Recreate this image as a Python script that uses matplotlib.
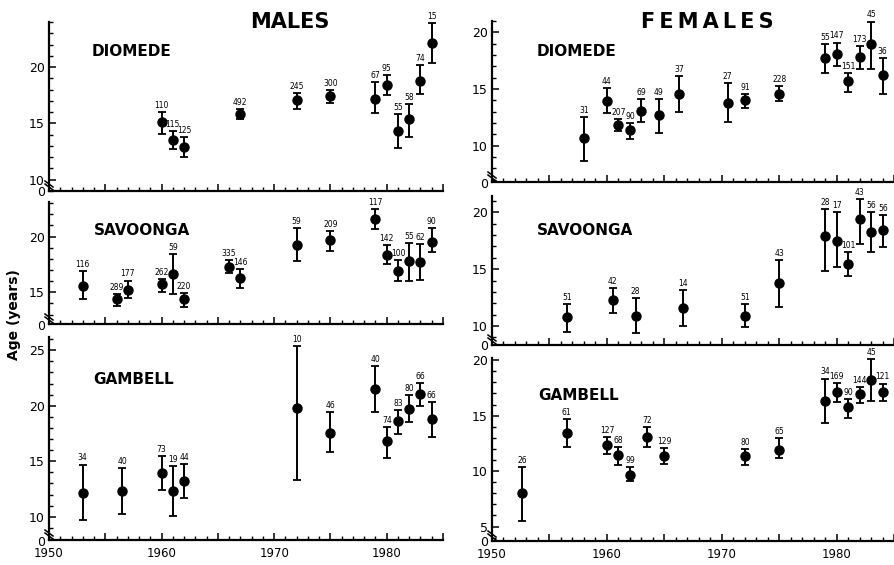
import matplotlib
matplotlib.use('Agg')
import matplotlib.pyplot as plt
from matplotlib.ticker import MultipleLocator, FuncFormatter

plt.rcParams['font.family'] = ['DejaVu Sans']

# ---- data: year, mean age, lower/upper bar, sample size ----
# Males, Diomede
dio_m_year = [1960, 1961, 1962, 1967, 1972, 1975, 1979, 1980, 1981, 1982, 1983, 1984]
dio_m_mean = [15.1, 13.5, 12.9, 15.8, 17.1, 17.45, 17.15, 18.4, 14.3, 15.35, 18.8, 22.15]
dio_m_lo = [14.1, 12.7, 12.0, 15.4, 16.3, 16.85, 15.9, 17.5, 12.85, 13.8, 17.6, 20.4]
dio_m_hi = [16.0, 14.35, 13.8, 16.25, 17.7, 18.0, 18.7, 19.3, 15.8, 16.75, 20.15, 23.9]
dio_m_n = [110, 115, 125, 492, 245, 300, 67, 95, 55, 58, 74, 15]

# Males, Savoonga
sav_m_year = [1953, 1956, 1957, 1960, 1961, 1962, 1966, 1967, 1972, 1975, 1979, 1980, 1981, 1982, 1983, 1984]
sav_m_mean = [15.6, 14.35, 15.2, 15.7, 16.6, 14.35, 17.25, 16.3, 19.25, 19.7, 21.6, 18.3, 16.95, 17.8, 17.7, 19.55]
sav_m_lo = [14.4, 13.75, 14.45, 15.0, 14.8, 13.7, 16.7, 15.4, 17.8, 18.7, 20.7, 17.5, 16.0, 16.05, 16.1, 18.6]
sav_m_hi = [16.9, 14.8, 16.05, 16.2, 18.4, 14.95, 17.9, 17.1, 20.8, 20.5, 22.5, 19.2, 17.9, 19.4, 19.35, 20.8]
sav_m_n = [116, 289, 177, 262, 59, 220, 335, 146, 59, 209, 117, 142, 100, 55, 62, 90]

# Males, Gambell
gam_m_year = [1953, 1956.5, 1960, 1961, 1962, 1972, 1975, 1979, 1980, 1981, 1982, 1983, 1984]
gam_m_mean = [12.15, 12.3, 13.9, 12.3, 13.2, 19.8, 17.55, 21.55, 16.85, 18.65, 19.75, 21.05, 18.85]
gam_m_lo = [9.7, 10.25, 12.4, 10.1, 11.65, 13.3, 15.85, 19.45, 15.25, 17.5, 18.55, 19.95, 17.2]
gam_m_hi = [14.7, 14.35, 15.5, 14.55, 14.75, 25.35, 19.4, 23.6, 18.1, 19.6, 21.0, 22.05, 20.3]
gam_m_n = [34, 40, 73, 19, 44, 10, 46, 40, 74, 83, 80, 66, 66]

# Females, Diomede
dio_f_year = [1958, 1960, 1961, 1962, 1963, 1964.5, 1966.3, 1970.5, 1972, 1975, 1979, 1980, 1981, 1982, 1983, 1984]
dio_f_mean = [10.65, 13.95, 11.8, 11.4, 13.1, 12.7, 14.6, 13.8, 14.0, 14.6, 17.75, 18.1, 15.75, 17.85, 18.95, 16.25]
dio_f_lo = [8.65, 12.85, 11.3, 10.6, 12.05, 11.1, 13.0, 12.1, 13.3, 13.95, 16.45, 17.05, 14.75, 16.75, 16.75, 14.6]
dio_f_hi = [12.5, 15.05, 12.35, 12.0, 14.1, 14.15, 16.15, 15.5, 14.55, 15.3, 19.0, 19.1, 16.45, 18.8, 20.95, 17.7]
dio_f_n = [31, 44, 207, 90, 69, 49, 37, 27, 91, 228, 55, 147, 151, 173, 45, 36]

# Females, Savoonga
sav_f_year = [1956.5, 1960.5, 1962.5, 1966.6, 1972, 1975, 1979, 1980, 1981, 1982, 1983, 1984]
sav_f_mean = [10.75, 12.25, 10.9, 11.55, 10.9, 13.75, 17.95, 17.5, 15.45, 19.4, 18.3, 18.45]
sav_f_lo = [9.5, 11.1, 9.4, 10.0, 9.95, 11.7, 14.85, 15.15, 14.4, 17.25, 16.55, 16.95]
sav_f_hi = [11.95, 13.35, 12.45, 13.15, 11.95, 15.8, 20.3, 20.0, 16.5, 21.2, 20.05, 19.75]
sav_f_n = [51, 42, 28, 14, 51, 43, 28, 17, 101, 43, 56, 56]

# Females, Gambell
gam_f_year = [1952.6, 1956.5, 1960, 1961, 1962, 1963.5, 1965, 1972, 1975, 1979, 1980, 1981, 1982, 1983, 1984]
gam_f_mean = [8.05, 13.45, 12.35, 11.45, 9.65, 13.1, 11.35, 11.35, 11.95, 16.35, 17.15, 15.75, 16.95, 18.25, 17.1]
gam_f_lo = [5.5, 12.2, 11.55, 10.55, 9.15, 12.15, 10.6, 10.55, 11.15, 14.35, 16.25, 14.75, 16.1, 16.35, 16.3]
gam_f_hi = [10.4, 14.7, 13.1, 12.2, 10.35, 14.0, 12.05, 12.0, 12.95, 18.35, 17.95, 16.5, 17.6, 20.1, 17.9]
gam_f_n = [26, 61, 127, 68, 99, 72, 129, 80, 65, 34, 169, 90, 144, 45, 121]

W, H = 895, 565
fig = plt.figure(figsize=(W / 100, H / 100), dpi=100)


def panel(box, xlim, ylim, year, mean, lo, hi, n, bottom=False):
    x0, x1, top, bot = box
    ax = fig.add_axes([x0 / W, 1 - bot / H, (x1 - x0) / W, (bot - top) / H])
    yerr = [[m - l for m, l in zip(mean, lo)], [h - m for m, h in zip(mean, hi)]]
    ax.errorbar(year, mean, yerr=yerr, fmt='o', color='black', ms=6.5,
                capsize=3, elinewidth=1.4, capthick=1.3)
    for x, h, k in zip(year, hi, n):
        ax.annotate(str(k), (x, h), xytext=(0, 1.5), textcoords='offset points',
                    ha='center', va='bottom', fontsize=5.5)
    ax.set_xlim(*xlim)
    ax.set_ylim(*ylim)
    for s in ['top', 'right']:
        ax.spines[s].set_visible(False)
    for s in ['left', 'bottom']:
        ax.spines[s].set_linewidth(1.6)
    ax.xaxis.set_major_locator(MultipleLocator(5))
    ax.xaxis.set_minor_locator(MultipleLocator(1))
    ax.yaxis.set_major_locator(MultipleLocator(5))
    ax.yaxis.set_minor_locator(MultipleLocator(1))
    ax.xaxis.set_major_formatter(FuncFormatter(lambda v, p: f'{int(v)}' if v % 10 == 0 else ''))
    ax.tick_params(which='major', direction='in', length=5, width=1.1)
    ax.tick_params(which='minor', direction='in', length=3, width=1.0)
    ax.tick_params(axis='y', labelsize=9, pad=3)
    ax.tick_params(axis='x', labelsize=8.5, pad=5, labelbottom=bottom)
    # broken axis: "0" at the corner and a double slash on the y axis
    aw, ah = (x1 - x0), (bot - top)
    for off in (0, 3):
        ax.plot([-4 / aw, 4 / aw], [(10 - off) / ah, (4 - off) / ah], color='black',
                lw=1.1, transform=ax.transAxes, clip_on=False)
    ax.text(-4 / aw, -2 / ah, '0', transform=ax.transAxes, ha='right', va='center', fontsize=9)
    return ax


def label(x, y, s, **kw):
    fig.text(x / W, 1 - y / H, s, **kw)


left_x = (49, 443)
right_x = (492, 900)

panel((*left_x, 22, 191), (1950, 1985), (9.0, 24.0),
      dio_m_year, dio_m_mean, dio_m_lo, dio_m_hi, dio_m_n)
panel((*left_x, 202, 324), (1950, 1985), (12.15, 23.1),
      sav_m_year, sav_m_mean, sav_m_lo, sav_m_hi, sav_m_n)
panel((*left_x, 337, 540), (1950, 1985), (7.9, 26.2),
      gam_m_year, gam_m_mean, gam_m_lo, gam_m_hi, gam_m_n, bottom=True)
panel((*right_x, 21, 182), (1950, 1985.5), (6.8, 21.0),
      dio_f_year, dio_f_mean, dio_f_lo, dio_f_hi, dio_f_n)
panel((*right_x, 196, 345), (1950, 1985.5), (8.33, 21.43),
      sav_f_year, sav_f_mean, sav_f_lo, sav_f_hi, sav_f_n)
panel((*right_x, 358, 541), (1950, 1985.5), (3.7, 20.2),
      gam_f_year, gam_f_mean, gam_f_lo, gam_f_hi, gam_f_n, bottom=True)

# titles and site names
label(290, 22, 'MALES', ha='center', va='center', fontsize=15, fontweight='bold')
label(707, 22, 'F\u2009E\u2009M\u2009A\u2009L\u2009E\u2009S', ha='center', va='center',
      fontsize=15, fontweight='bold')
lab = dict(ha='left', va='center', fontsize=11, fontweight='bold')
label(92, 52, 'DIOMEDE', **lab)
label(94, 231, 'SAVOONGA', **lab)
label(93, 380, 'GAMBELL', **lab)
label(537, 51, 'DIOMEDE', **lab)
label(537, 231, 'SAVOONGA', **lab)
label(538, 396, 'GAMBELL', **lab)
label(14, 315, 'Age (years)', ha='center', va='center', rotation=90,
      fontsize=10, fontweight='bold')

fig.savefig('out.png', dpi=100, facecolor='white')
